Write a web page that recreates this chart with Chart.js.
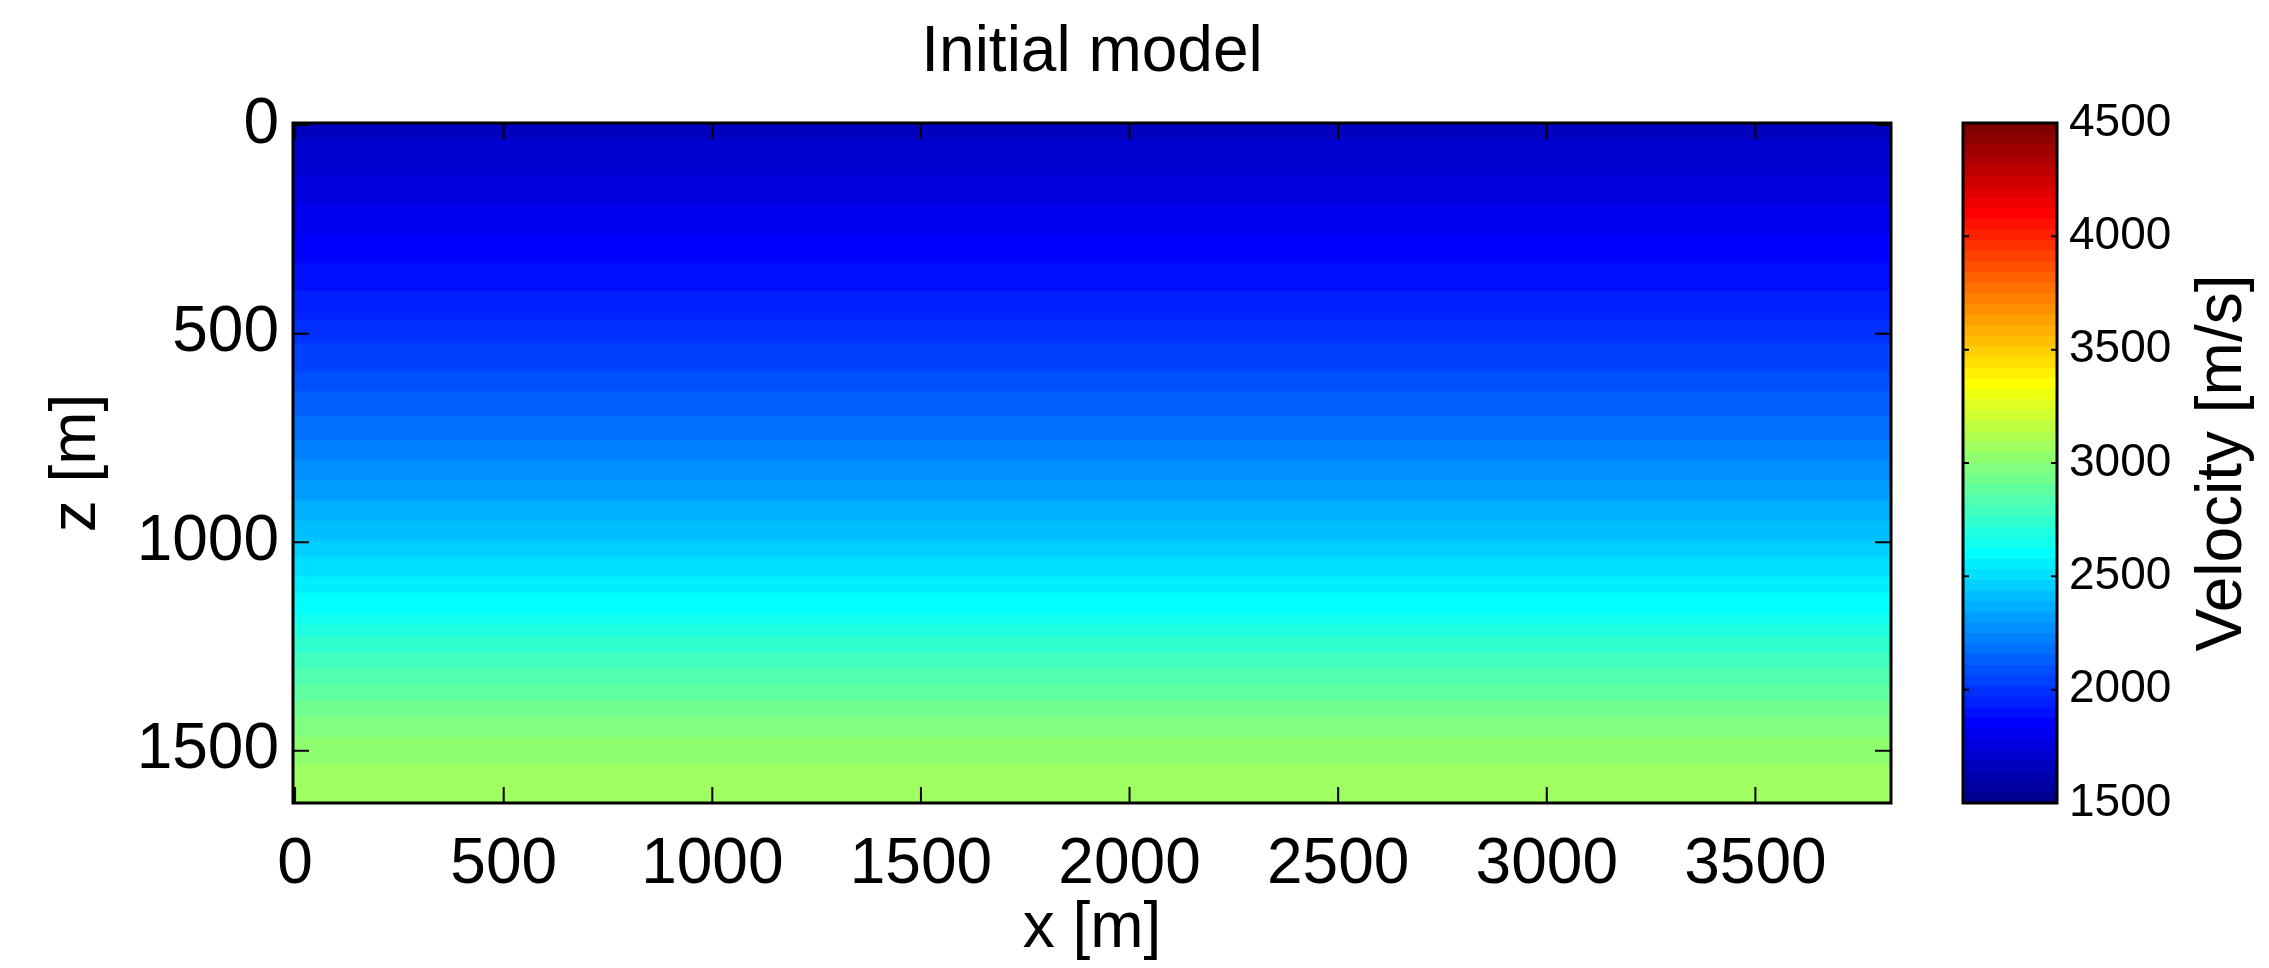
<!DOCTYPE html>
<html>
<head>
<meta charset="utf-8">
<title>Initial model</title>
<script src="https://cdn.jsdelivr.net/npm/chart.js@4.4.1/dist/chart.umd.min.js"></script>
<style>
  html, body { margin: 0; padding: 0; background: #fff; }
  #wrap { position: relative; width: 2269px; height: 968px; }
  #model { position: absolute; left: 0; top: 0; }
  #colorbar { position: absolute; left: 1920px; top: 0; }
</style>
</head>
<body>
<div id="wrap">
  <canvas id="model" width="1920" height="968"></canvas>
  <canvas id="colorbar" width="349" height="968"></canvas>
</div>
<script>
// model extent (cell edges), m
const xRange = [-5, 3825];
const zRange = [-5, 1625];

// layer boundaries (depth, m), top to bottom
const layerDepths = [-5, 36, 120, 192, 259, 331, 398, 466, 523, 590, 638, 696, 754, 802,
    852, 900, 948, 996, 1034, 1082, 1121, 1171, 1198, 1226, 1265, 1303, 1342, 1380,
    1418, 1466, 1534, 1625];
// velocity in each layer, m/s
const layerVelocity = [1665, 1710, 1760, 1805, 1850, 1900, 1945, 1990, 2040, 2085, 2135,
    2180, 2225, 2275, 2320, 2365, 2415, 2460, 2510, 2555, 2600, 2650, 2695, 2740, 2790,
    2835, 2880, 2930, 2975, 3025, 3070];

// colour scale
const velRange = [1500, 4500];
const nColors = 64;

// tick labels
const xTicks = [0, 500, 1000, 1500, 2000, 2500, 3000, 3500];
const zTicks = [0, 500, 1000, 1500];
const velTicks = [1500, 2000, 2500, 3000, 3500, 4000, 4500];

const FONT = "'Liberation Sans', Arial, Helvetica, sans-serif";

// matlab jet(64), i = 1..64
function jet(i) {
    const u = (j) => (j < 1 || j > 47 ? 0 : j <= 16 ? j / 16 : j <= 31 ? 1 : (48 - j) / 16);
    const r = u(i - 24), g = u(i - 8), b = u(i + 8);
    return "rgb(" + Math.round(r * 255) + "," + Math.round(g * 255) + "," + Math.round(b * 255) + ")";
}

function colorFor(v) {
    let i = Math.floor(((v - velRange[0]) / (velRange[1] - velRange[0])) * nColors) + 1;
    i = Math.min(nColors, Math.max(1, i));
    return jet(i);
}

const plain = (v) => String(v);

// box + inward tick marks, matlab style
const frame = {
    id: "frame",
    afterDraw(chart, args, opts) {
        const { ctx, chartArea: a, scales } = chart;
        ctx.save();
        ctx.strokeStyle = "#000";
        ctx.lineWidth = 2;
        ctx.beginPath();
        opts.axes.forEach((id) => {
            const s = scales[id];
            s.ticks.forEach((t) => {
                const p = s.getPixelForValue(t.value);
                if (s.isHorizontal()) {
                    ctx.moveTo(p, a.bottom);
                    ctx.lineTo(p, a.bottom - opts.len);
                    ctx.moveTo(p, a.top);
                    ctx.lineTo(p, a.top + opts.len);
                } else {
                    ctx.moveTo(a.left, p);
                    ctx.lineTo(a.left + opts.len, p);
                    ctx.moveTo(a.right, p);
                    ctx.lineTo(a.right - opts.len, p);
                }
            });
        });
        ctx.stroke();
        ctx.lineWidth = 3;
        ctx.strokeRect(a.left, a.top, a.right - a.left, a.bottom - a.top);
        ctx.restore();
    },
};

// colorbar label, reading bottom to top
const sideTitle = {
    id: "sideTitle",
    afterDraw(chart, args, opts) {
        if (!opts.text) return;
        const { ctx, chartArea: a } = chart;
        ctx.save();
        ctx.translate(opts.x, (a.top + a.bottom) / 2);
        ctx.rotate(-Math.PI / 2);
        ctx.font = opts.size + "px " + FONT;
        ctx.fillStyle = "#000";
        ctx.textAlign = "center";
        ctx.textBaseline = "middle";
        ctx.fillText(opts.text, 0, 0);
        ctx.restore();
    },
};

// each layer filled from the surface down to its base; upper layers drawn on top
const modelSets = layerVelocity.map((v, k) => ({
    data: [
        { x: xRange[0], y: layerDepths[k + 1] },
        { x: xRange[1], y: layerDepths[k + 1] },
    ],
    fill: { value: zRange[0] },
    backgroundColor: colorFor(v),
    borderColor: "rgba(0,0,0,0)",
    borderWidth: 0,
    pointRadius: 0,
}));

const barSets = [];
for (let i = 1; i <= nColors; i++) {
    const top = velRange[0] + (i * (velRange[1] - velRange[0])) / nColors;
    barSets.push({
        data: [
            { x: 0, y: top },
            { x: 1, y: top },
        ],
        fill: { value: velRange[0] },
        backgroundColor: jet(i),
        borderColor: "rgba(0,0,0,0)",
        borderWidth: 0,
        pointRadius: 0,
    });
}

const tickFont = { family: FONT, size: 64 };

new Chart(document.getElementById("model"), {
    type: "line",
    data: { datasets: modelSets },
    plugins: [frame],
    options: {
        responsive: false,
        animation: false,
        devicePixelRatio: 1,
        layout: { padding: { left: 0, right: 29, top: 0, bottom: 0 } },
        plugins: {
            legend: { display: false },
            tooltip: { enabled: false },
            title: {
                display: true,
                text: "Initial model",
                fullSize: false,
                color: "#000",
                font: { family: FONT, size: 64, weight: "normal" },
                padding: { top: 15, bottom: 31.2 },
            },
            frame: { axes: ["x", "y"], len: 16 },
        },
        scales: {
            x: {
                type: "linear",
                min: xRange[0],
                max: xRange[1],
                afterBuildTicks: (s) => {
                    s.ticks = xTicks.map((v) => ({ value: v }));
                },
                afterFit: (s) => {
                    s.height = 165;
                },
                grid: { display: false, drawTicks: false },
                border: { display: false },
                ticks: { color: "#000", font: tickFont, padding: 24, maxRotation: 0, autoSkip: false, callback: plain },
                title: {
                    display: true,
                    text: "x [m]",
                    color: "#000",
                    font: tickFont,
                    padding: { top: 0, bottom: 0 },
                },
            },
            y: {
                type: "linear",
                reverse: true,
                min: zRange[0],
                max: zRange[1],
                afterBuildTicks: (s) => {
                    s.ticks = zTicks.map((v) => ({ value: v }));
                },
                afterFit: (s) => {
                    s.width = 293;
                },
                grid: { display: false, drawTicks: false },
                border: { display: false },
                ticks: { color: "#000", font: tickFont, padding: 14, autoSkip: false, callback: plain },
                title: {
                    display: true,
                    text: "z [m]",
                    color: "#000",
                    font: tickFont,
                    padding: { top: 39, bottom: 0 },
                },
            },
        },
    },
});

new Chart(document.getElementById("colorbar"), {
    type: "line",
    data: { datasets: barSets },
    plugins: [frame, sideTitle],
    options: {
        responsive: false,
        animation: false,
        devicePixelRatio: 1,
        layout: { padding: { left: 43, right: 0, top: 123, bottom: 165 } },
        plugins: {
            legend: { display: false },
            tooltip: { enabled: false },
            frame: { axes: ["y"], len: 6 },
            sideTitle: { text: "Velocity [m/s]", x: 303, size: 64 },
        },
        scales: {
            x: { type: "linear", display: false, min: 0, max: 1 },
            y: {
                type: "linear",
                position: "right",
                min: velRange[0],
                max: velRange[1],
                afterBuildTicks: (s) => {
                    s.ticks = velTicks.map((v) => ({ value: v }));
                },
                afterFit: (s) => {
                    s.width = 212;
                },
                grid: { display: false, drawTicks: false },
                border: { display: false },
                ticks: { color: "#000", font: { family: FONT, size: 46 }, padding: 12, autoSkip: false, callback: plain },
            },
        },
    },
});
</script>
</body>
</html>
